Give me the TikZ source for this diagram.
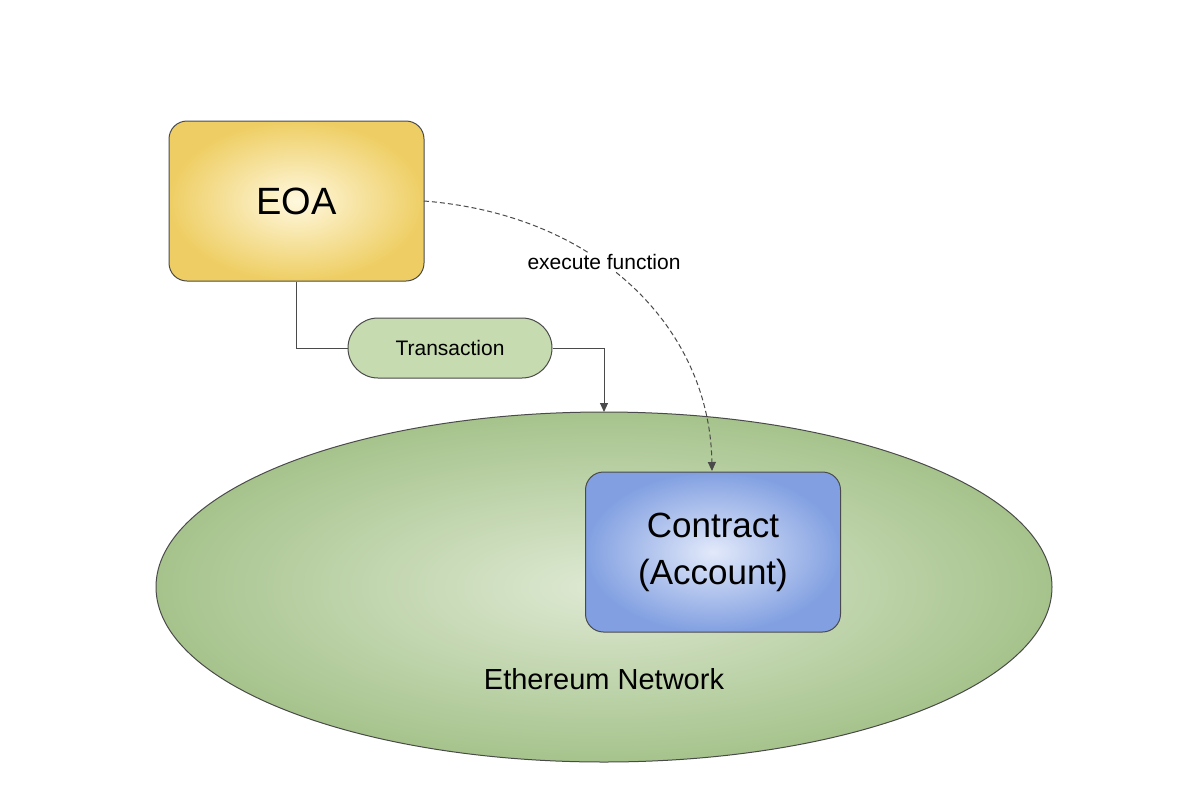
\documentclass[tikz,border=0pt]{standalone}
\usepackage{fontspec}
\setmainfont{Liberation Sans}
\usetikzlibrary{shapes.geometric,arrows.meta}
\definecolor{ln}{HTML}{4A4A4A}
\tikzset{
 box/.style={draw=ln,line width=1pt,rounded corners=18pt,minimum width=255pt,minimum height=160pt,inner sep=0pt,align=center},
 conn/.style={draw=ln,line width=1pt,-{Triangle[length=9pt,width=8pt]}}
}
\begin{document}
\begin{tikzpicture}[x=1pt,y=-1pt]
\useasboundingbox[fill=white] (0,0) rectangle (1200,785);
\node[ellipse,draw=ln,line width=1pt,minimum width=896pt,minimum height=350pt,inner sep=0pt,shading=radial,inner color={rgb,255:red,222;green,233;blue,211},outer color={rgb,255:red,166;green,195;blue,140}] (net) at (604,587) {};
\node[font=\fontsize{29}{32}\selectfont] (netl) at (604,679) {Ethereum Network};
\node[box,shading=radial,inner color={rgb,255:red,255;green,248;blue,222},outer color={rgb,255:red,238;green,206;blue,100},font=\fontsize{38}{44}\selectfont] (eoa) at (296.5,201) {EOA};
\node[box,shading=radial,inner color={rgb,255:red,226;green,233;blue,250},outer color={rgb,255:red,130;green,160;blue,225},font=\fontsize{35}{47}\selectfont] (con) at (713,552) {Contract\\(Account)};
\node[draw=ln,line width=1pt,rounded corners=30pt,minimum width=204pt,minimum height=60pt,fill={rgb,255:red,198;green,219;blue,175},font=\fontsize{21}{24}\selectfont] (tx) at (450,348) {Transaction};
\draw[draw=ln,line width=1pt] (eoa.south) |- (tx.west);
\coordinate (nt) at (604,412);
\draw[conn] (tx.east) -| (nt);
\coordinate (ct) at (712,471);
\draw[conn,dash pattern=on 5pt off 3pt] (424,201) .. controls (600,215) and (710,330) .. (ct);
\node[font=\fontsize{21}{24}\selectfont,fill=white,inner sep=1pt] (ex) at (604,262) {execute function};
\end{tikzpicture}
\end{document}
